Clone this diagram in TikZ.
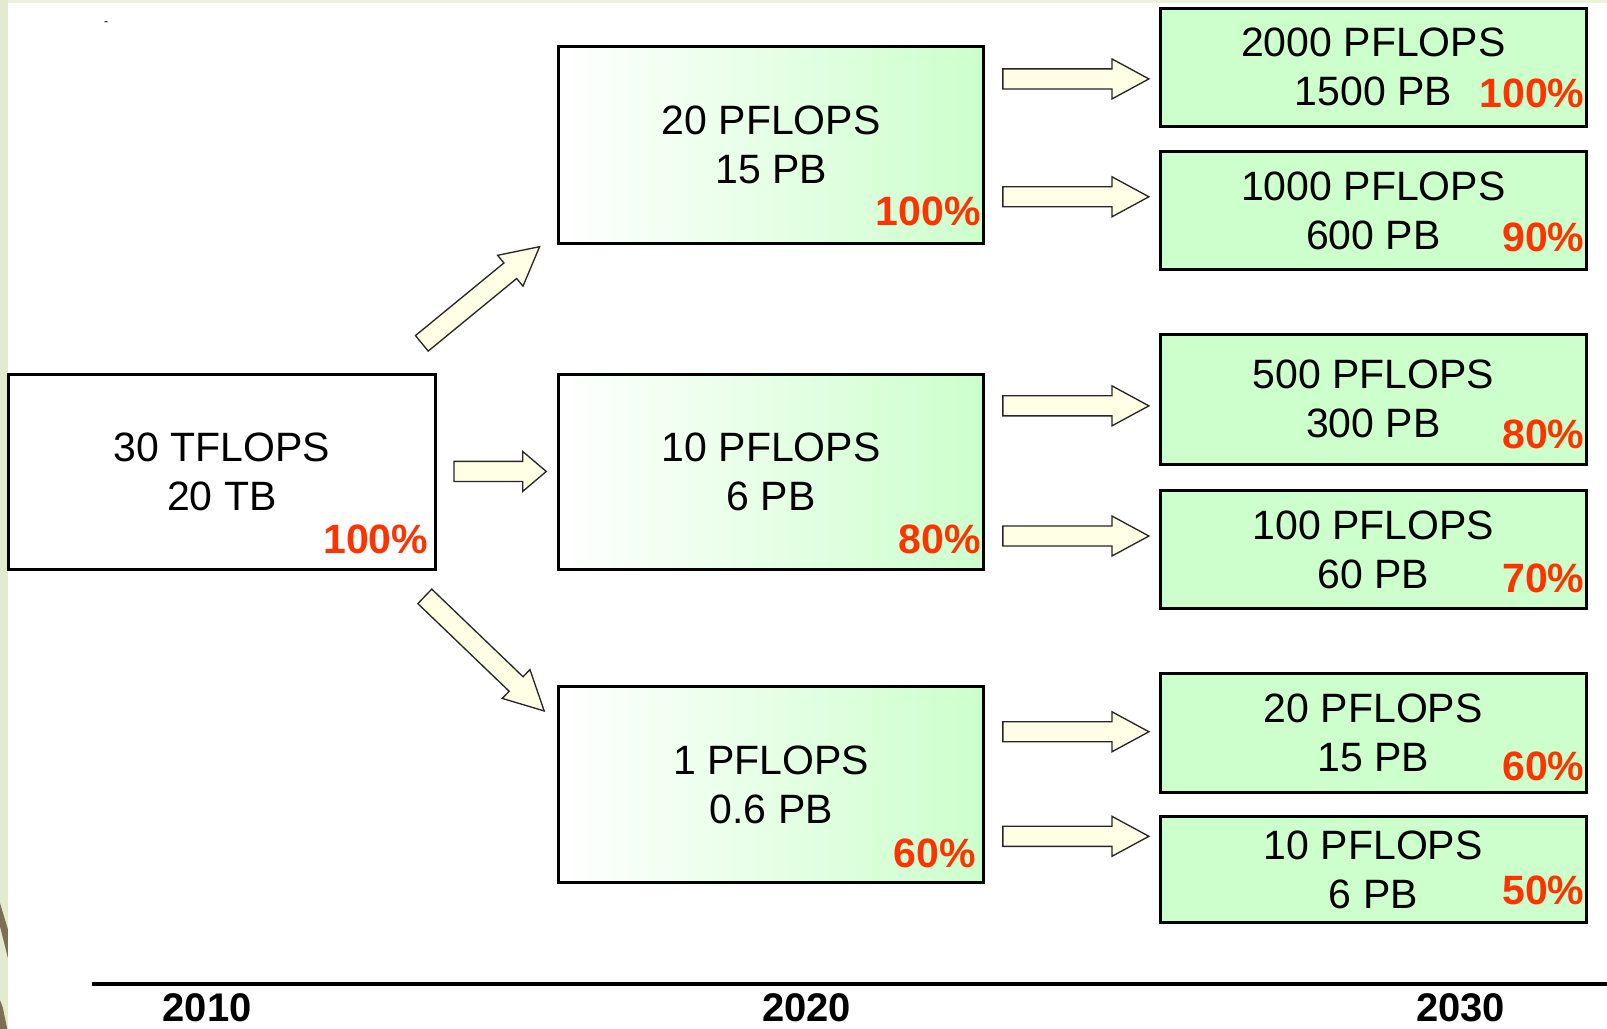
\documentclass[tikz,border=0pt]{standalone}
\usepackage{fontspec}
\setmainfont{Liberation Sans}
\usetikzlibrary{calc}
\definecolor{boxgreen}{RGB}{204,255,204}
\definecolor{pctred}{RGB}{255,51,0}
\definecolor{arrowfill}{RGB}{255,255,230}
\definecolor{stripcol}{RGB}{228,234,208}
\definecolor{olivecol}{RGB}{123,112,82}
\newcommand{\blockarrow}[4]{%
  \coordinate (#4h) at ($(#2)!#3!(#1)$);
  \draw[blockarr] ($(#1)!9.8pt!90:(#2)$) -- ($(#4h)!9.8pt!-90:(#1)$) -- ($(#4h)!19.5pt!-90:(#1)$) -- (#2) -- ($(#4h)!19.5pt!90:(#1)$) -- ($(#4h)!9.8pt!90:(#1)$) -- ($(#1)!9.8pt!-90:(#2)$) -- cycle;
}
\tikzset{
  box/.style={draw=black, line width=2.9pt, inner sep=0pt, align=center, font=\fontsize{40}{48}\selectfont},
  gbox/.style={box, left color=white, right color=boxgreen, minimum width=415pt},
  rbox/.style={box, fill=boxgreen, minimum width=416pt},
  pct/.style={text=pctred, font=\fontsize{40}{48}\selectfont\bfseries, anchor=base east, inner sep=0pt},
  yearlbl/.style={font=\fontsize{39}{46}\selectfont\bfseries, anchor=base, inner sep=0pt},
  blockarr/.style={draw=black!85, line width=1.3pt, fill=arrowfill, line join=miter},
}
\begin{document}
\begin{tikzpicture}[x=1pt, y=-1pt]
\useasboundingbox (0,0) rectangle (1568,1004);
\fill[white] (0,0) rectangle (1568,1004);
% slide background strips
\fill[stripcol!70!white] (0,0) rectangle (1568,3);
\fill[stripcol] (0,0) rectangle (7.8,1004);
\fill[olivecol] (0,881) -- (7.8,907) -- (7.8,935) -- (0,904) -- cycle;
\fill[olivecol] (0,976) -- (2.6,982.5) -- (7.1,1004) -- (0,1004) -- cycle;
\node[font=\fontsize{12}{14}\selectfont, anchor=base, inner sep=0pt] (dash) at (103.6,24.5) {-};

% 2010
\node[box, fill=white, minimum width=417pt, minimum height=191pt] (A) at (216.5,460.5) {30 TFLOPS\\20 TB};
\node[pct] (pA) at (418,540) {100\%};

% 2020
\node[gbox, minimum height=193pt] (B) at (752.5,141.5) {20 PFLOPS\\15 PB};
\node[pct] (pB) at (957,220) {100\%};
\node[gbox, minimum height=191pt] (C) at (752.5,460.5) {10 PFLOPS\\6 PB};
\node[pct] (pC) at (957,540) {80\%};
\node[gbox, minimum height=191pt] (D) at (752.5,765.5) {1 PFLOPS\\0.6 PB};
\node[pct] (pD) at (952,846) {60\%};

% 2030
\node[rbox, minimum height=115pt] (E) at (1340,65.5) {2000 PFLOPS\\1500 PB};
\node[pct] (pE) at (1546,105) {100\%};
\node[rbox, minimum height=115pt] (F) at (1340,205.5) {1000 PFLOPS\\600 PB};
\node[pct] (pF) at (1546,245) {90\%};
\node[rbox, minimum height=127pt] (G) at (1340,389.5) {500 PFLOPS\\300 PB};
\node[pct] (pG) at (1546,438) {80\%};
\node[rbox, minimum height=115pt] (H) at (1340,536.5) {100 PFLOPS\\60 PB};
\node[pct] (pH) at (1546,578) {70\%};
\node[rbox, minimum height=116pt] (I) at (1340,715) {20 PFLOPS\\15 PB};
\node[pct] (pI) at (1546,762) {60\%};
\node[rbox, minimum height=104pt] (J) at (1340,848.5) {10 PFLOPS\\6 PB};
\node[pct] (pJ) at (1546,883) {50\%};

% arrows
\coordinate (u1) at (411.6,335);   \coordinate (u2) at (526.5,240.7);
\coordinate (m1) at (443,460);     \coordinate (m2) at (533,460);
\coordinate (d1) at (414.5,581.9); \coordinate (d2) at (531,693.7);
\blockarrow{u1}{u2}{37pt}{au}
\blockarrow{m1}{m2}{23pt}{am}
\blockarrow{d1}{d2}{38pt}{ad}
\foreach \yy/\nm in {77/e,192/f,396/g,523/h,714/i,816/j}{
  \coordinate (r\nm1) at (978.5,\yy);
  \coordinate (r\nm2) at (1121,\yy);
  \blockarrow{r\nm1}{r\nm2}{36pt}{ar\nm}
}

% timeline
\coordinate (tl1) at (89.6,960.4);
\coordinate (tl2) at (1568,960.4);
\draw[line width=3.9pt] (tl1) -- (tl2);
\node[yearlbl] (y2010) at (202,997) {2010};
\node[yearlbl] (y2020) at (787,997) {2020};
\node[yearlbl] (y2030) at (1425,997) {2030};
\end{tikzpicture}
\end{document}
